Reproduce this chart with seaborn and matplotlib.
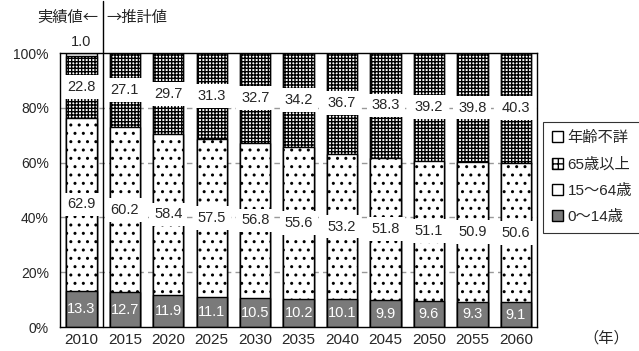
import matplotlib
matplotlib.use("Agg")
import matplotlib.pyplot as plt
import matplotlib.colors as mcolors
from matplotlib.patches import Patch
import numpy as np
import seaborn as sns

sns.set_style("white")
plt.rcParams['font.family'] = ['Liberation Sans', 'Noto Sans CJK JP', 'DejaVu Sans']
plt.rcParams['hatch.linewidth'] = 1.0

# data (%)
years = ['2010', '2015', '2020', '2025', '2030', '2035', '2040', '2045', '2050', '2055', '2060']
age0_14 = [13.3, 12.7, 11.9, 11.1, 10.5, 10.2, 10.1, 9.9, 9.6, 9.3, 9.1]
age15_64 = [62.9, 60.2, 58.4, 57.5, 56.8, 55.6, 53.2, 51.8, 51.1, 50.9, 50.6]
age65 = [22.8, 27.1, 29.7, 31.3, 32.7, 34.2, 36.7, 38.3, 39.2, 39.8, 40.3]
unknown = [1.0, 0, 0, 0, 0, 0, 0, 0, 0, 0, 0]
legend_labels = ['年齢不詳', '65歳以上', '15～64歳', '0～14歳']

a = np.array(age0_14)
b = a + np.array(age15_64)
c = b + np.array(age65)
d = c + np.array(unknown)

fig = plt.figure(figsize=(6.39, 3.51), dpi=100)
ax = fig.add_axes([0.094, 0.068, 0.746, 0.781])

def layer(vals, face, hatch=None, hcolor='black'):
    n0 = len(ax.patches)
    sns.barplot(x=years, y=vals, ax=ax, width=0.7, color=face, saturation=1,
                edgecolor='black', linewidth=1.0, hatch=hatch, zorder=2)
    for p in ax.patches[n0:]:
        p._hatch_color = mcolors.to_rgba(hcolor)

layer(d, 'white')
layer(c, 'white', '+++++', 'black')
layer(b, 'white', '..', 'black')
layer(a, '#7a7a7a')

# labels
for i in range(len(years)):
    ax.text(i, (b[i] + c[i]) / 2, f'{age65[i]:.1f}', ha='center', va='center', fontsize=10.5,
            bbox=dict(facecolor='white', edgecolor='none', pad=3.5), zorder=5)
    ax.text(i, (a[i] + b[i]) / 2, f'{age15_64[i]:.1f}', ha='center', va='center', fontsize=10.5,
            bbox=dict(facecolor='white', edgecolor='none', pad=3.5), zorder=5)
    ax.text(i, a[i] / 2, f'{age0_14[i]:.1f}', ha='center', va='center', fontsize=10.5,
            color='white', zorder=5)
    if unknown[i] > 0:
        ax.text(i, d[i] + 1.5, f'{unknown[i]:.1f}', ha='center', va='bottom', fontsize=10.5,
                clip_on=False)

ax.set_xlim(-0.49, 10.48)
ax.set_ylim(0, 100)
ax.set_yticks([0, 20, 40, 60, 80, 100])
ax.set_yticklabels([f'{v}%' for v in [0, 20, 40, 60, 80, 100]], fontsize=10)
ax.tick_params(axis='x', length=0, labelsize=11, pad=4)
ax.set_xticks(np.arange(0.5, 10, 1), minor=True)
ax.tick_params(axis='x', which='minor', direction='in', length=4, width=1, color='black')
ax.tick_params(axis='y', direction='in', length=3, width=0.8, color='black', pad=8)
for y in [20, 40, 60, 80]:
    ax.axhline(y, color='#999999', linestyle=(0, (4, 3)), linewidth=1, zorder=1)
for s in ax.spines.values():
    s.set_color('black')
    s.set_linewidth(1)
ax.set_xlabel('')
ax.set_ylabel('')

# separator between actual and projected values
cjk = ['Noto Sans CJK JP', 'DejaVu Sans']
ax.plot([0.5, 0.5], [0, 119], color='black', linewidth=1, clip_on=False, zorder=6)
fig.text(98 / 639, 1 - 17 / 351, '実績値←', ha='right', va='center', fontsize=11, family=cjk)
fig.text(106 / 639, 1 - 17 / 351, '→推計値', ha='left', va='center', fontsize=11, family=cjk)
fig.text(583 / 639, 1 - 338 / 351, '（年）', ha='left', va='center', fontsize=11, family=cjk)

handles = [Patch(facecolor='white', edgecolor='black'),
           Patch(facecolor='white', edgecolor='black', hatch='+++'),
           Patch(facecolor='white', edgecolor='black'),
           Patch(facecolor='#7a7a7a', edgecolor='black')]
leg = fig.legend(handles, legend_labels, loc='upper left', bbox_to_anchor=(543 / 639, 1 - 122 / 351),
                 fontsize=11, frameon=True, fancybox=False, edgecolor='black',
                 handlelength=0.7, handleheight=0.7, handletextpad=0.3, labelspacing=0.8,
                 borderpad=0.6, borderaxespad=0)
leg.get_frame().set_linewidth(0.8)

fig.savefig('out.png', dpi=100)
